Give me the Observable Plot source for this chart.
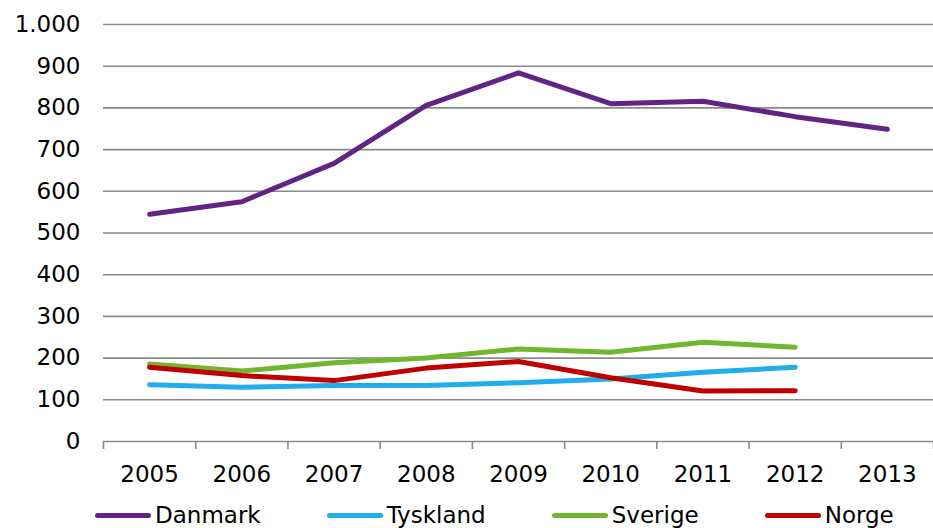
<!DOCTYPE html>
<html>
<head>
<meta charset="utf-8">
<script src="https://cdn.jsdelivr.net/npm/d3@7"></script>
<script src="https://cdn.jsdelivr.net/npm/@observablehq/plot@0.6"></script>
<style>
  html, body { margin: 0; padding: 0; background: #fff; }
  body { width: 933px; height: 528px; overflow: hidden; font-family: "DejaVu Sans", Verdana, sans-serif; }
  #chart svg { display: block; }
  #legend { display: flex; gap: 66px; padding-left: 95px; padding-top: 12px; height: 38px; box-sizing: border-box; align-items: center; font-size: 23px; color: #000; }
  .item { display: flex; align-items: center; white-space: nowrap; }
  .sw { width: 56px; height: 5px; border-radius: 3px; margin-right: 4px; }
</style>
</head>
<body>
<div id="chart"></div>
<div id="legend"></div>
<script>
const years = [2005, 2006, 2007, 2008, 2009, 2010, 2011, 2012, 2013];
const seriesNames = ["Danmark", "Tyskland", "Sverige", "Norge"];
const danmark  = [545, 575, 667, 806, 884, 810, 816, 779, 749];
const tyskland = [136, 130, 134, 134, 141, 150, 166, 178, null];
const sverige  = [186, 169, 189, 200, 222, 214, 238, 226, null];
const norge    = [178, 158, 146, 176, 192, 153, 121, 122, null];
const colors   = ["#612483", "#21ACEB", "#72B62F", "#C00000"];
const yTicks   = [0, 100, 200, 300, 400, 500, 600, 700, 800, 900, 1000];

const seriesValues = [danmark, tyskland, sverige, norge];
const data = [];
seriesNames.forEach((name, i) => {
  years.forEach((yr, j) => {
    data.push({country: name, year: yr, value: seriesValues[i][j]});
  });
});

const fmt = d3.formatLocale({decimal: ",", thousands: ".", grouping: [3], currency: ["", " kr."]}).format(",d");
const boundaries = years.map(y => y - 0.5).concat([years[years.length - 1] + 0.5]);
const grid = "#8a8a8a";

const chart = Plot.plot({
  width: 933,
  height: 490,
  marginTop: 24,
  marginBottom: 49,
  marginLeft: 103,
  marginRight: 0,
  style: {fontFamily: "DejaVu Sans, Verdana, sans-serif", fontSize: "23px", color: "#000", background: "#fff"},
  x: {type: "linear", domain: [years[0] - 0.5, years[years.length - 1] + 0.5], axis: null, label: null},
  y: {domain: [0, 1000], axis: null, label: null},
  color: {domain: seriesNames, range: colors},
  marks: [
    Plot.ruleY(yTicks, {stroke: grid, strokeWidth: 1.6}),
    Plot.axisX({ticks: boundaries, tickSize: 8, tickFormat: () => "", stroke: grid, strokeWidth: 1.6, label: null}),
    Plot.axisX({ticks: years, tickSize: 0, tickPadding: 24, tickFormat: d => String(d), fontSize: 23, label: null}),
    Plot.axisY({ticks: yTicks, tickSize: 0, tickPadding: 23, tickFormat: d => fmt(d), fontSize: 23, label: null}),
    Plot.lineY(data, {
      x: "year", y: "value", z: "country", stroke: "country",
      strokeWidth: 5, strokeLinecap: "round", strokeLinejoin: "round",
      defined: d => d.value != null
    })
  ]
});
document.getElementById("chart").appendChild(chart);

const legend = document.getElementById("legend");
seriesNames.forEach((name, i) => {
  const item = document.createElement("div");
  item.className = "item";
  const sw = document.createElement("span");
  sw.className = "sw";
  sw.style.background = colors[i];
  const t = document.createElement("span");
  t.textContent = name;
  item.appendChild(sw);
  item.appendChild(t);
  legend.appendChild(item);
});
</script>
</body>
</html>
